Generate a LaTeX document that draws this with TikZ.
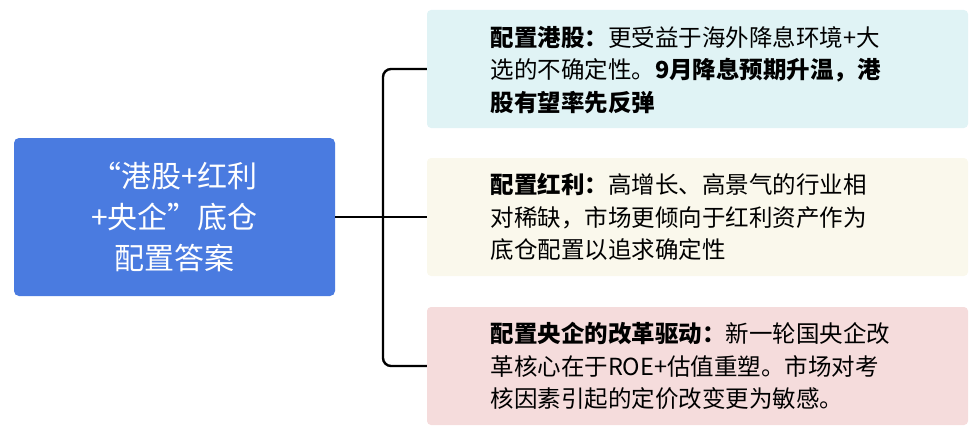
\documentclass[tikz,border=0pt]{standalone}
\usepackage{fontspec}
\setmainfont{Noto Sans CJK SC}
\usetikzlibrary{positioning}
\definecolor{mainblue}{HTML}{4A7BE0}
\definecolor{cyanbg}{HTML}{E0F3F5}
\definecolor{creambg}{HTML}{FAF8EC}
\definecolor{pinkbg}{HTML}{F5DCDC}
\tikzset{
  pointbox/.style={rectangle, rounded corners=4pt, minimum width=541pt, minimum height=118pt, draw=none},
  pointtext/.style={align=left, anchor=west, font=\fontsize{23.5}{32.5}\selectfont},
  branch/.style={line width=2.4pt, rounded corners=8pt}
}
\begin{document}
\begin{tikzpicture}[x=1pt, y=-1pt]
    \useasboundingbox (0,0) rectangle (976,433);
    % Nodes
    \node (main) [rectangle, fill=mainblue, rounded corners=5pt, minimum width=321pt, minimum height=158pt, text=white, align=center, font=\fontsize{30}{41}\selectfont] at (174.5,217) {“港股+红利\\+央企”底仓\\配置答案};
    \node (hk) [pointbox, fill=cyanbg] at (697.5,69) {};
    \node (div) [pointbox, fill=creambg] at (697.5,217) {};
    \node (soe) [pointbox, fill=pinkbg] at (697.5,366) {};
    \node [pointtext] at (487,70) {\textbf{配置港股：}更受益于海外降息环境+大\\选的不确定性。\textbf{9月降息预期升温，港}\\\textbf{股有望率先反弹}};
    \node [pointtext] at (487,217) {\textbf{配置红利：}高增长、高景气的行业相\\对稀缺，市场更倾向于红利资产作为\\底仓配置以追求确定性};
    \node [pointtext] at (487,366) {\textbf{配置央企的改革驱动：}新一轮国央企改\\革核心在于ROE+估值重塑。市场对考\\核因素引起的定价改变更为敏感。};
    \coordinate (fork) at (383,217);

    % Edges
    \draw[branch] (main.east) -- (div.west);
    \draw[branch] (hk.west) -- (fork |- hk.west) -- (fork |- soe.west) -- (soe.west);
\end{tikzpicture}
\end{document}
